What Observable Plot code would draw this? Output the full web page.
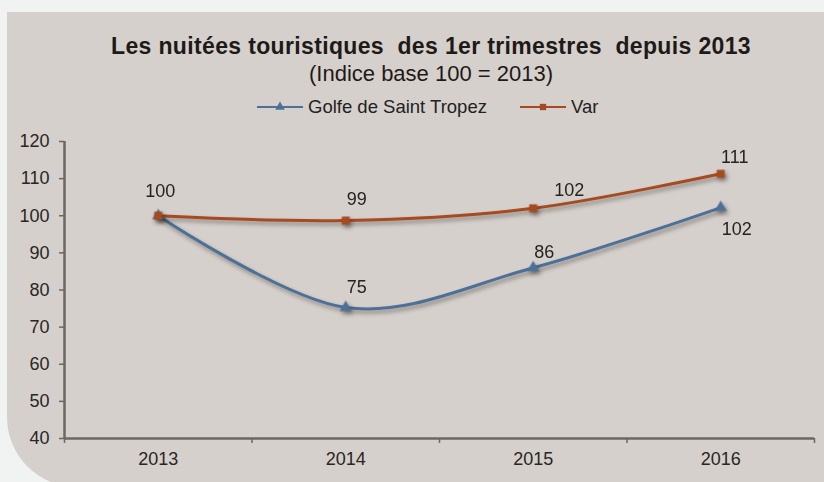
<!DOCTYPE html>
<html>
<head>
<meta charset="utf-8">
<script src="https://cdn.jsdelivr.net/npm/d3@7"></script>
<script src="https://cdn.jsdelivr.net/npm/@observablehq/plot@0.6"></script>
<style>
  html, body { margin: 0; padding: 0; background: #f1f3f2; width: 824px; height: 482px; overflow: hidden; }
  body { position: relative; font-family: "Liberation Sans", Arial, sans-serif; }
  #panel { position: absolute; left: 7px; top: 12px; width: 817px; height: 475px; background: #d5d0cc; border-bottom-left-radius: 70px; }
  .title { position: absolute; left: 431px; top: 35px; line-height: 23px; transform: translateX(-50%); white-space: pre; font-weight: bold; font-size: 23px; letter-spacing: 0.35px; color: #1e1a18; }
  .subtitle { position: absolute; left: 431px; top: 63px; line-height: 22px; transform: translateX(-50%); white-space: pre; font-size: 22px; color: #1e1a18; }
  .legend { position: absolute; left: 257px; top: 98px; display: flex; align-items: center; font-size: 18.5px; line-height: 18.5px; color: #222; white-space: pre; }
  .legend .item { display: flex; align-items: center; }
  .legend svg { margin-right: 5px; }
  #chart { position: absolute; left: 0; top: 120px; }
</style>
</head>
<body>
<div id="panel"></div>
<div class="title">Les nuitées touristiques  des 1er trimestres  depuis 2013</div>
<div class="subtitle">(Indice base 100 = 2013)</div>
<div class="legend" id="legend"></div>
<div id="chart"></div>
<script>
const years = [2013, 2014, 2015, 2016];
const golfe = [100, 75.3, 86.0, 102.2];
const varDep = [100, 98.7, 102.0, 111.3];
const seriesNames = ["Golfe de Saint Tropez", "Var"];
const yTicks = [40, 50, 60, 70, 80, 90, 100, 110, 120];

const colors = {"Golfe de Saint Tropez": "#4c7098", "Var": "#a64a21"};
const symbols = {"Golfe de Saint Tropez": "triangle", "Var": "square"};

const data = [
  ...years.map((y, i) => ({year: y, value: golfe[i], series: seriesNames[0]})),
  ...years.map((y, i) => ({year: y, value: varDep[i], series: seriesNames[1]}))
];
const golfeData = data.filter(d => d.series === seriesNames[0]);
const varData = data.filter(d => d.series === seriesNames[1]);
// category boundaries (band edges) derived from the years
const bounds = [...years.map(y => y - 0.5), years[years.length - 1] + 0.5];

const axisColor = "#6b6763";
const labelStyle = {fontSize: 18, fill: "#262220", fontFamily: "Liberation Sans, Arial, sans-serif"};
const lab = (arr, yr, dx, dy) => Plot.text(arr.filter(d => d.year === yr), {x: "year", y: "value", text: d => String(Math.round(d.value)), dx, dy, ...labelStyle});

const plot = Plot.plot({
  width: 824,
  height: 362,
  marginLeft: 64,
  marginRight: 10,
  marginTop: 21,
  marginBottom: 44,
  style: {background: "transparent", fontFamily: "Liberation Sans, Arial, sans-serif", overflow: "visible"},
  x: {type: "linear", domain: [bounds[0], bounds[bounds.length - 1]], axis: null},
  y: {domain: [40, 120], axis: null},
  marks: [
    Plot.axisY({ticks: yTicks, label: null, tickSize: 5, tickPadding: 10, fontSize: 18, stroke: axisColor, strokeWidth: 1.5, color: "#2a2624", tickFormat: d => String(d)}),
    Plot.axisX({ticks: bounds, label: null, tickSize: 5, stroke: axisColor, strokeWidth: 1.5, tickFormat: () => ""}),
    Plot.axisX({ticks: years, label: null, tickSize: 0, tickPadding: 14, fontSize: 18, color: "#2a2624", tickFormat: d => String(d)}),
    Plot.ruleY([40], {stroke: axisColor, strokeWidth: 2.5}),
    Plot.ruleX([bounds[0]], {y1: 40, y2: 120, stroke: axisColor, strokeWidth: 2.5}),
    Plot.line(golfeData, {x: "year", y: "value", stroke: colors[seriesNames[0]], strokeWidth: 3, curve: "cardinal"}),
    Plot.line(varData, {x: "year", y: "value", stroke: colors[seriesNames[1]], strokeWidth: 3, curve: "cardinal"}),
    Plot.dot(golfeData, {x: "year", y: "value", symbol: "triangle", r: 4.5, fill: colors[seriesNames[0]], stroke: "none"}),
    Plot.dot(varData, {x: "year", y: "value", symbol: "square", r: 4.5, fill: colors[seriesNames[1]], stroke: "none"}),
    lab(varData, 2013, 2, -25),
    lab(varData, 2014, 11, -21),
    lab(varData, 2015, 36, -18),
    lab(varData, 2016, 14, -17),
    lab(golfeData, 2014, 11, -20),
    lab(golfeData, 2015, 11, -15),
    lab(golfeData, 2016, 16, 22)
  ]
});
document.getElementById("chart").appendChild(plot);
d3.select(plot).selectAll('g[aria-label="line"], g[aria-label="dot"]')
  .style("filter", "drop-shadow(2px 3px 2px rgba(40,30,25,0.45))");

// legend
const legend = d3.select("#legend");
seriesNames.forEach((name, i) => {
  const item = legend.append("div").attr("class", "item").style("margin-right", i === 0 ? "33px" : "0");
  const s = item.append("svg").attr("width", 46).attr("height", 12);
  s.append("line").attr("x1", 0).attr("x2", 46).attr("y1", 6).attr("y2", 6).attr("stroke", colors[name]).attr("stroke-width", 2);
  s.append("path").attr("transform", "translate(23,6)").attr("d", d3.symbol(symbols[name] === "square" ? d3.symbolSquare : d3.symbolTriangle, 40)()).attr("fill", colors[name]);
  item.append("span").text(name);
});
</script>
</body>
</html>
